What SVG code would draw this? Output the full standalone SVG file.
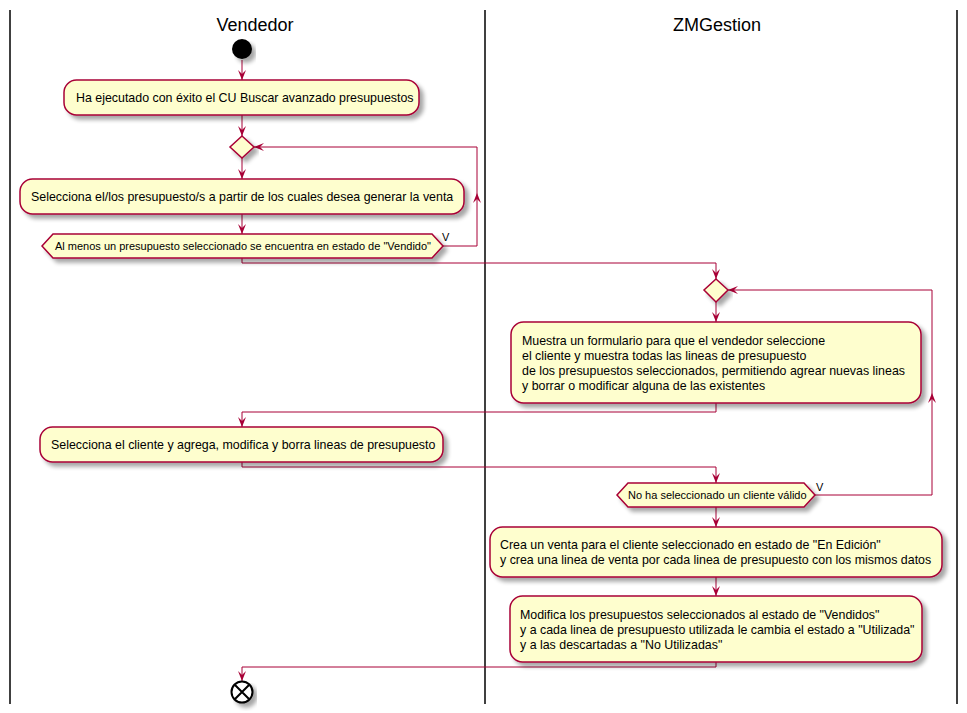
<svg xmlns="http://www.w3.org/2000/svg" width="967" height="713" viewBox="0 0 967 713">
<defs>
<filter id="sh" x="-10%" y="-10%" width="130%" height="150%">
<feGaussianBlur in="SourceAlpha" stdDeviation="2"/>
<feOffset dx="4" dy="4" result="b"/>
<feComponentTransfer><feFuncA type="linear" slope="0.35"/></feComponentTransfer>
<feMerge><feMergeNode/><feMergeNode in="SourceGraphic"/></feMerge>
</filter>
<marker id="ah" markerUnits="userSpaceOnUse" markerWidth="12" markerHeight="10" refX="10" refY="5" orient="auto">
<path d="M0,1 L10,5 L0,9 L4,5 Z" fill="#A80036"/>
</marker>
</defs>
<style>
.lane{stroke:#000;stroke-width:1.5;fill:none}
.title{font-family:"Liberation Sans",Arial,sans-serif;font-size:18px;fill:#000;text-anchor:middle}
.box{fill:#FEFECE;stroke:#A80036;stroke-width:1.5;filter:url(#sh)}
.t{font-family:"Liberation Sans",Arial,sans-serif;font-size:12.4px;fill:#000}
.ts{font-family:"Liberation Sans",Arial,sans-serif;font-size:11px;fill:#000}
.c{fill:none;stroke:#A80036;stroke-width:1;marker-end:url(#ah)}
.ar{fill:#A80036}
</style>
<rect width="967" height="713" fill="#fff"/>
<g id="lanes">
<line class="lane" x1="10" y1="10" x2="10" y2="704"/>
<line class="lane" x1="485" y1="10" x2="485" y2="704"/>
<line class="lane" x1="957" y1="10" x2="957" y2="704"/>
<text class="title" x="255" y="31">Vendedor</text>
<text class="title" x="717" y="31">ZMGestion</text>
</g>
<g id="connectors">
<path class="c" d="M242,60 L242,80"/>
<path class="c" d="M242,115 L242,136"/>
<path class="c" d="M242,158 L242,179"/>
<path class="c" d="M242,214 L242,234"/>
<path class="c" d="M443,246 L477,246 L477,147 L254,147"/>
<path class="ar" d="M477,193 L481,203 L477,199 L473,203 Z"/>
<path class="c" d="M242,258 L242,263 L716,263 L716,279"/>
<path class="c" d="M716,302 L716,322"/>
<path class="c" d="M716,403 L716,412 L242,412 L242,427"/>
<path class="c" d="M242,462 L242,467 L716,467 L716,483"/>
<path class="c" d="M815,495 L932,495 L932,290 L728,290"/>
<path class="ar" d="M932,393 L936,403 L932,399 L928,403 Z"/>
<path class="c" d="M716,507 L716,527"/>
<path class="c" d="M716,577 L716,596"/>
<path class="c" d="M716,662 L716,667 L242,667 L242,681"/>
<text class="ts" x="442" y="241">V</text>
<text class="ts" x="816" y="491">V</text>
</g>
<g id="start">
<circle cx="242" cy="49" r="10" fill="#000" filter="url(#sh)"/>
</g>
<g id="n1">
<rect class="box" x="64" y="80" width="355" height="35" rx="12.5"/>
<text class="t" x="76" y="102">Ha ejecutado con éxito el CU Buscar avanzado presupuestos</text>
</g>
<g id="d1">
<polygon class="box" points="242,136 254,147 242,158 230,147"/>
</g>
<g id="n2">
<rect class="box" x="20" y="179" width="444" height="35" rx="12.5"/>
<text class="t" x="31" y="201">Selecciona el/los presupuesto/s a partir de los cuales desea generar la venta</text>
</g>
<g id="h1">
<polygon class="box" points="42,246 53,234 432,234 443,246 432,258 53,258"/>
<text class="ts" x="55" y="250">Al menos un presupuesto seleccionado se encuentra en estado de "Vendido"</text>
</g>
<g id="d2">
<polygon class="box" points="716,279 728,290 716,302 704,290"/>
</g>
<g id="n3">
<rect class="box" x="511" y="322" width="410" height="81" rx="12.5"/>
<text class="t" x="522" y="345">Muestra un formulario para que el vendedor seleccione</text>
<text class="t" x="522" y="360">el cliente y muestra todas las lineas de presupuesto</text>
<text class="t" x="522" y="375">de los presupuestos seleccionados, permitiendo agrear nuevas lineas</text>
<text class="t" x="522" y="390">y borrar o modificar alguna de las existentes</text>
</g>
<g id="n4">
<rect class="box" x="40" y="427" width="403" height="35" rx="12.5"/>
<text class="t" x="51" y="449">Selecciona el cliente y agrega, modifica y borra lineas de presupuesto</text>
</g>
<g id="h2">
<polygon class="box" points="617,495 628,483 804,483 815,495 804,507 628,507"/>
<text class="ts" x="628" y="499">No ha seleccionado un cliente válido</text>
</g>
<g id="n5">
<rect class="box" x="490" y="527" width="452" height="50" rx="12.5"/>
<text class="t" x="500" y="549">Crea un venta para el cliente seleccionado en estado de "En Edición"</text>
<text class="t" x="500" y="564">y crea una linea de venta por cada linea de presupuesto con los mismos datos</text>
</g>
<g id="n6">
<rect class="box" x="510" y="596" width="412" height="66" rx="12.5"/>
<text class="t" x="520" y="619">Modifica los presupuestos seleccionados al estado de "Vendidos"</text>
<text class="t" x="520" y="634">y a cada linea de presupuesto utilizada le cambia el estado a "Utilizada"</text>
<text class="t" x="520" y="649">y a las descartadas a "No Utilizadas"</text>
</g>
<g id="end">
<circle cx="242" cy="692" r="10.5" fill="#fff" stroke="#000" stroke-width="2" filter="url(#sh)"/>
<path d="M235,685 L249,699 M249,685 L235,699" stroke="#000" stroke-width="2"/>
</g>
</svg>
